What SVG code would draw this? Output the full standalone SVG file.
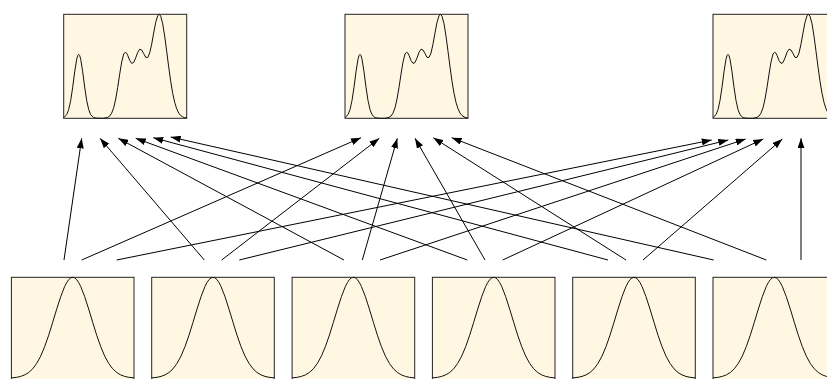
<svg xmlns="http://www.w3.org/2000/svg" xmlns:xlink="http://www.w3.org/1999/xlink" width="827" height="379" viewBox="0 0 827 379">
<style>
.box{fill:#fff7e1;stroke:#222;stroke-width:1}
.curve{fill:none;stroke:#111;stroke-width:1;stroke-linejoin:round}
.edge{fill:none;stroke:#000;stroke-width:1}
</style>
<defs>
<marker id="arr" markerUnits="userSpaceOnUse" markerWidth="10" markerHeight="7" refX="10" refY="3.5" orient="auto">
<path d="M0,0 L10,3.5 L0,7 z" fill="#000"/>
</marker>
<polyline id="multi" class="curve" points="0,103.3 3,100.4 5,95.3 7,86.2 9,72.9 11,57.5 13,44.9 14,41.3 15,40 16,41.3 17,44.9 19,57.5 21,72.9 23,86.2 25,95.3 27,100.4 30,103.3 33,103.9 40,104 44,103.1 46,101.7 48,98.8 50,93.5 52,84.8 54,73.2 56,59.8 58,47.7 60,39.7 61.5,38 63,38.9 64,41 66,46.1 68,49.1 70,48.2 72,43.6 74,38.1 76,34.9 78,35.7 80,39.3 82,43 84,43.2 86,38.7 88,29.8 90,18.6 92,8.1 94,1.3 95.5,0 97,1.8 99,9.5 101,21.9 103,37 105,52.6 107,67 109,79 111,88.1 113,94.5 115,98.7 117,101.2 119,102.6 121,103.4 123,103.7"/>
<polyline id="gauss" class="curve" points="0,100.6 5.3,100 9.3,99.1 13.3,97.6 17.3,95.2 21.3,91.5 25.3,86.1 29.3,78.8 33.3,69.3 37.3,57.9 41.3,45 45.3,31.8 49.3,19.4 53.3,9.1 55.3,5.3 57.3,2.3 59.3,0.6 61.3,0 63.3,0.6 65.3,2.3 67.3,5.3 69.3,9.1 73.3,19.4 77.3,31.8 81.3,45 85.3,57.9 89.3,69.3 93.3,78.8 97.3,86.1 101.3,91.5 105.3,95.2 109.3,97.6 113.3,99.1 117.3,100 122.6,100.6"/>
</defs>

<g id="connectors">
<line class="edge" marker-end="url(#arr)" x1="64" y1="260" x2="81.7" y2="138.3"/>
<line class="edge" marker-end="url(#arr)" x1="81.7" y1="260" x2="361" y2="137.7"/>
<line class="edge" marker-end="url(#arr)" x1="116.7" y1="260" x2="711.7" y2="140"/>
<line class="edge" marker-end="url(#arr)" x1="204.3" y1="260" x2="100" y2="138.3"/>
<line class="edge" marker-end="url(#arr)" x1="221.7" y1="260" x2="379.3" y2="138.3"/>
<line class="edge" marker-end="url(#arr)" x1="239.3" y1="260" x2="728.3" y2="140"/>
<line class="edge" marker-end="url(#arr)" x1="344" y1="260" x2="118.3" y2="138.3"/>
<line class="edge" marker-end="url(#arr)" x1="362.3" y1="260" x2="397.3" y2="138.3"/>
<line class="edge" marker-end="url(#arr)" x1="380" y1="260" x2="745.7" y2="139"/>
<line class="edge" marker-end="url(#arr)" x1="467.3" y1="260" x2="135.7" y2="138.3"/>
<line class="edge" marker-end="url(#arr)" x1="485" y1="260" x2="415" y2="138.3"/>
<line class="edge" marker-end="url(#arr)" x1="502.7" y1="260" x2="763.3" y2="139"/>
<line class="edge" marker-end="url(#arr)" x1="608" y1="260" x2="153.3" y2="137.7"/>
<line class="edge" marker-end="url(#arr)" x1="626" y1="260" x2="433.3" y2="137.7"/>
<line class="edge" marker-end="url(#arr)" x1="643" y1="260" x2="782.3" y2="139"/>
<line class="edge" marker-end="url(#arr)" x1="713.7" y1="260" x2="170.7" y2="137"/>
<line class="edge" marker-end="url(#arr)" x1="766.3" y1="260" x2="451.7" y2="137.7"/>
<line class="edge" marker-end="url(#arr)" x1="801" y1="260" x2="801" y2="138.3"/>
</g>

<g id="top1" transform="translate(63.7,14.3)">
<rect class="box" x="0" y="0" width="123" height="104"/>
<use xlink:href="#multi" href="#multi"/>
</g>
<g id="top2" transform="translate(345,14.3)">
<rect class="box" x="0" y="0" width="123" height="104"/>
<use xlink:href="#multi" href="#multi"/>
</g>
<g id="top3" transform="translate(713,14.3)">
<rect class="box" x="0" y="0" width="123" height="104"/>
<use xlink:href="#multi" href="#multi"/>
</g>

<g id="bottom1" transform="translate(11.4,277.3)">
<rect class="box" x="0" y="0" width="122.6" height="104"/>
<use xlink:href="#gauss" href="#gauss"/>
</g>
<g id="bottom2" transform="translate(151.7,277.3)">
<rect class="box" x="0" y="0" width="122.6" height="104"/>
<use xlink:href="#gauss" href="#gauss"/>
</g>
<g id="bottom3" transform="translate(292.1,277.3)">
<rect class="box" x="0" y="0" width="122.6" height="104"/>
<use xlink:href="#gauss" href="#gauss"/>
</g>
<g id="bottom4" transform="translate(432.4,277.3)">
<rect class="box" x="0" y="0" width="122.6" height="104"/>
<use xlink:href="#gauss" href="#gauss"/>
</g>
<g id="bottom5" transform="translate(572.7,277.3)">
<rect class="box" x="0" y="0" width="122.6" height="104"/>
<use xlink:href="#gauss" href="#gauss"/>
</g>
<g id="bottom6" transform="translate(713,277.3)">
<rect class="box" x="0" y="0" width="122.6" height="104"/>
<use xlink:href="#gauss" href="#gauss"/>
</g>
</svg>
